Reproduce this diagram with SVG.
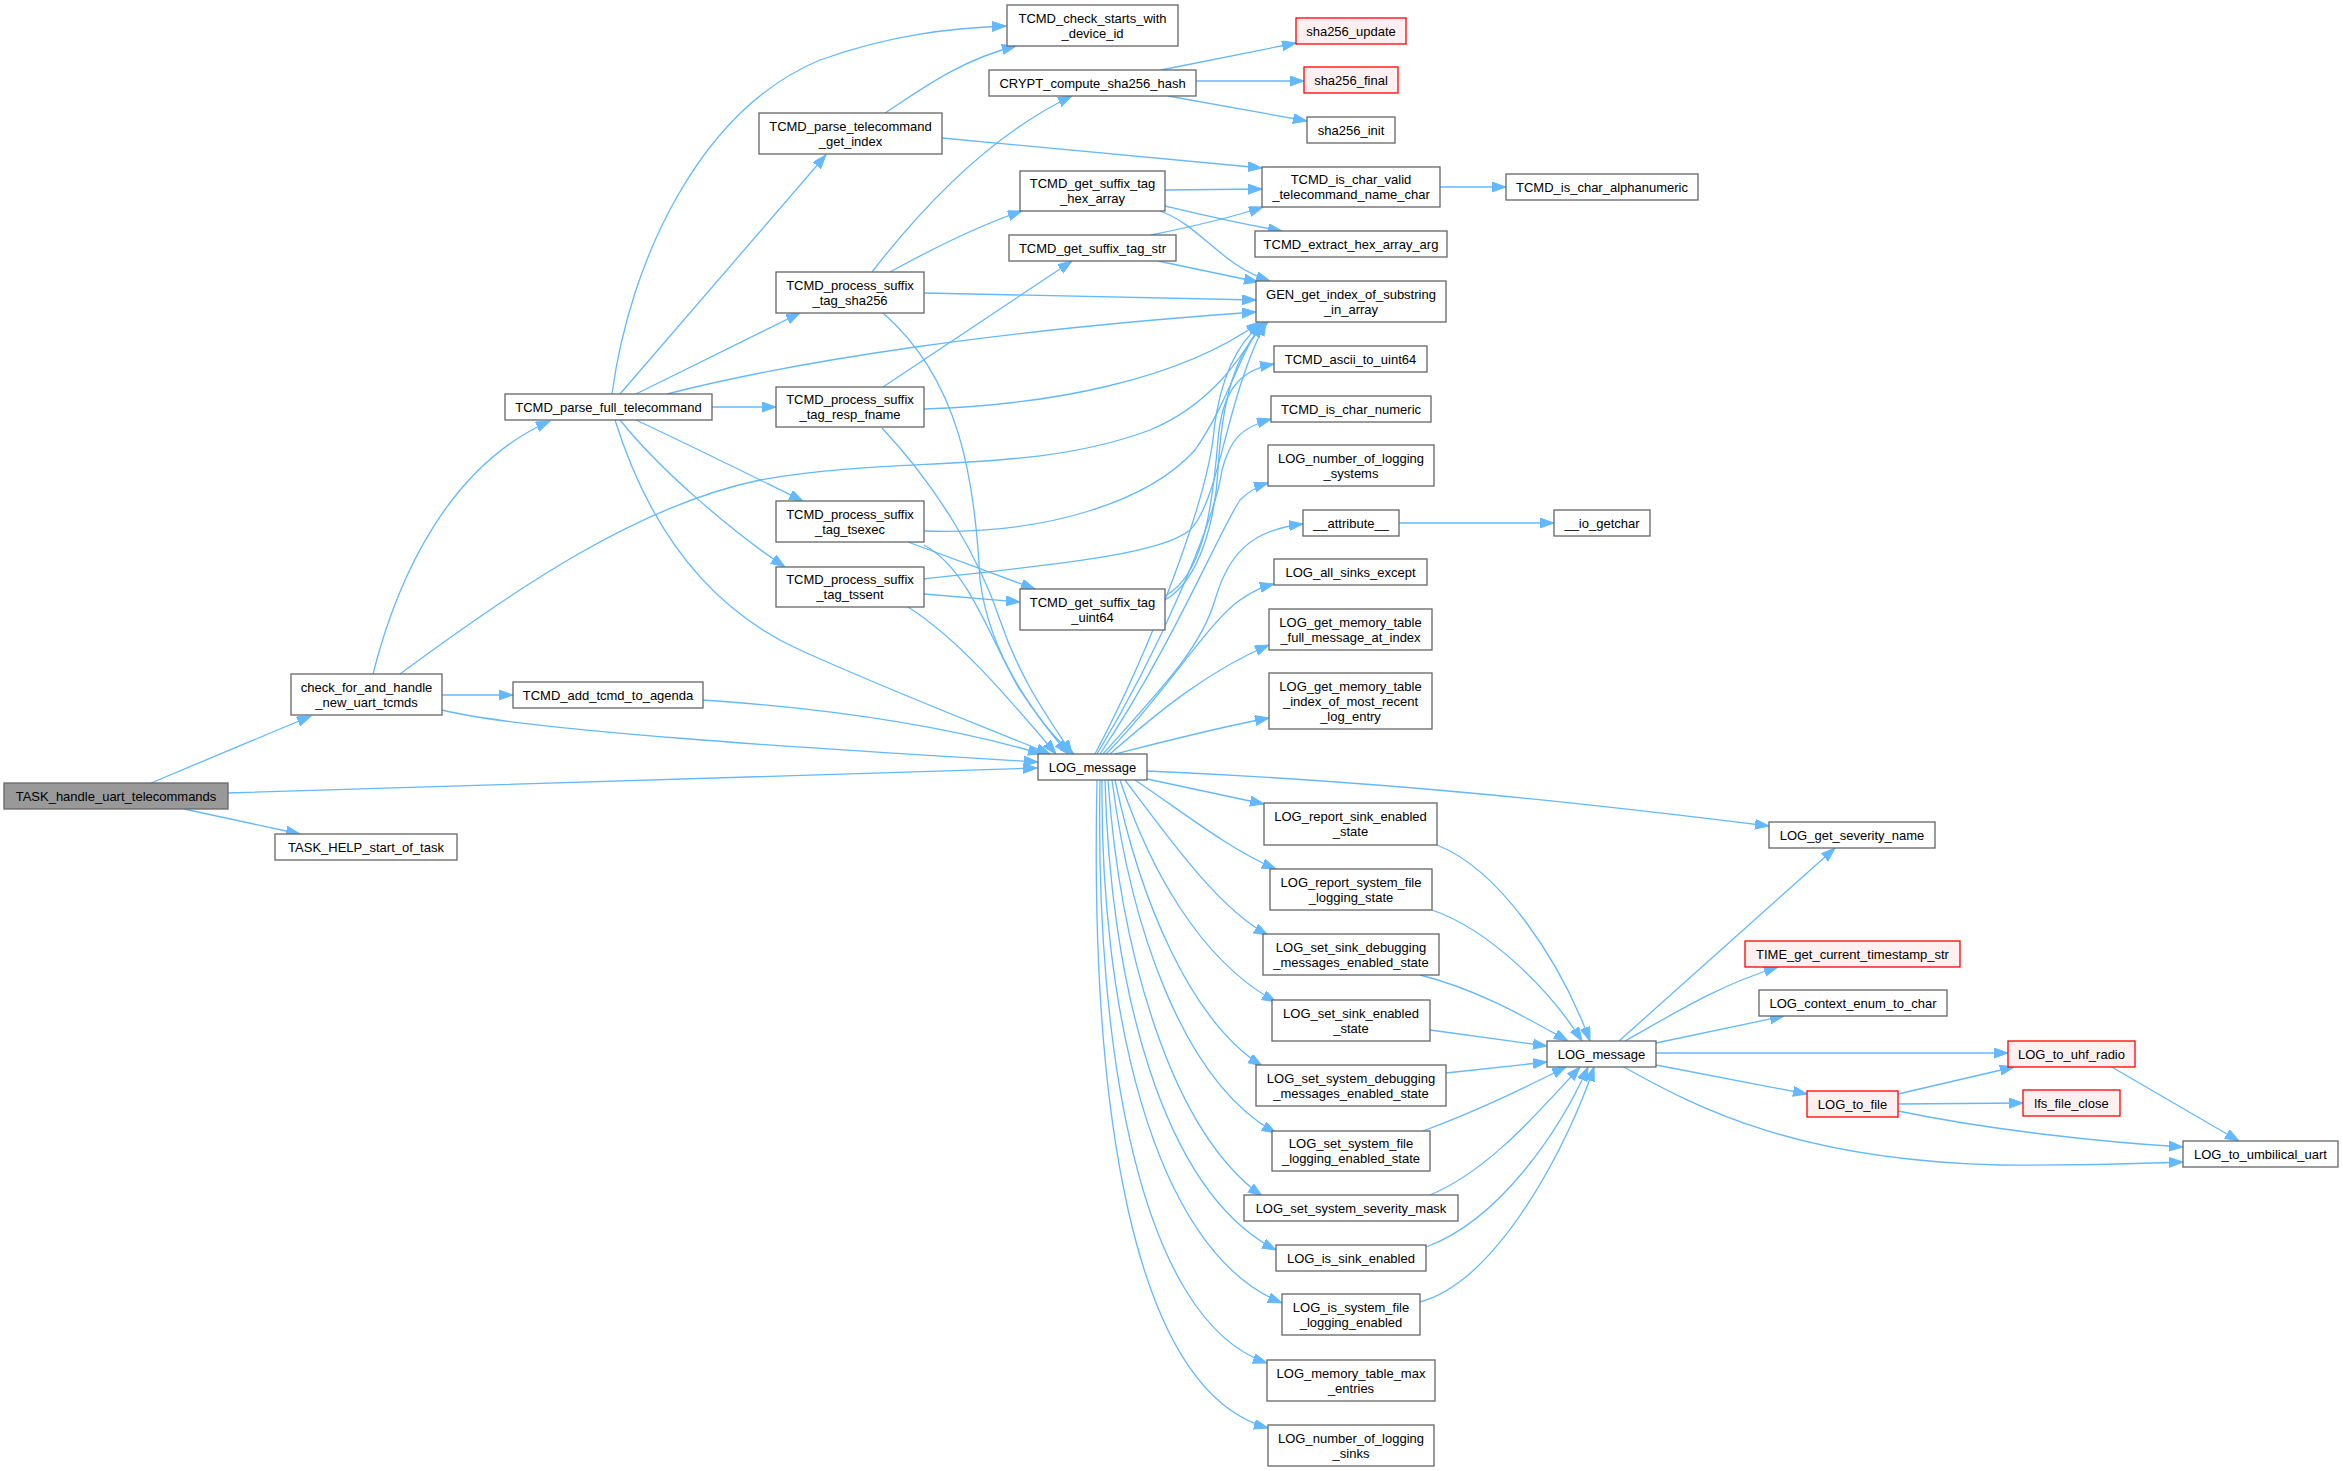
<svg xmlns="http://www.w3.org/2000/svg" width="2343" height="1471" viewBox="0 0 2343 1471">
<style>
.n rect{fill:#fff;stroke:#666;stroke-width:1.3}
.n.r rect{fill:#fff0f0;stroke:#ff0000}
.n.g rect{fill:#999}
text{font-family:"Liberation Sans",Arial,Helvetica,sans-serif;font-size:13px;text-anchor:middle;fill:#000}
#edges path{fill:none;stroke:#63b8ff;stroke-width:1.3;marker-end:url(#a)}
</style>
<defs>
<marker id="a" markerUnits="userSpaceOnUse" markerWidth="15" markerHeight="11" refX="14" refY="5" orient="auto">
<path d="M0,0 L14,5 L0,10 z" fill="#63b8ff" stroke="#63b8ff" stroke-width="1"/>
</marker>
</defs>
<rect width="2343" height="1471" fill="#fff"/>
<g id="edges">
<path d="M151,783 L311,716"/>
<path d="M184,809 L300,834"/>
<path d="M228,793 C500,785 800,775 1037,768"/>
<path d="M373,674 C398,575 450,465 550,421"/>
<path d="M442,695 L513,695"/>
<path d="M442,710 C520,730 800,748 1038,762"/>
<path d="M400,674 C520,585 640,505 760,480 C900,455 1030,475 1150,430 C1210,405 1240,360 1262,323"/>
<path d="M612,394 C630,260 700,110 820,60 C890,35 950,28 1006,26"/>
<path d="M620,394 L826,155"/>
<path d="M636,394 L800,313"/>
<path d="M667,394 C800,360 1000,330 1256,312"/>
<path d="M712,407 L776,407"/>
<path d="M636,420 C700,450 760,480 803,501"/>
<path d="M620,420 C660,470 730,530 785,567"/>
<path d="M615,420 C640,500 690,600 800,650 C900,695 980,725 1050,754"/>
<path d="M703,700 C850,710 960,730 1042,754"/>
<path d="M885,113 C920,90 960,60 1016,46"/>
<path d="M942,138 C1080,150 1180,160 1262,168"/>
<path d="M872,272 C920,210 990,135 1072,96"/>
<path d="M890,272 C930,250 980,225 1022,211"/>
<path d="M924,293 L1256,300"/>
<path d="M883,313 C960,380 975,480 980,580 C990,660 1040,720 1068,754"/>
<path d="M883,387 L1072,261"/>
<path d="M924,409 C1050,405 1180,380 1260,322"/>
<path d="M882,428 C940,490 980,560 1000,620 C1020,680 1050,720 1072,754"/>
<path d="M924,531 C1050,535 1150,500 1195,450 C1230,400 1240,350 1264,322"/>
<path d="M908,542 L1035,589"/>
<path d="M924,545 C970,570 990,640 1020,690 C1040,720 1055,740 1074,754"/>
<path d="M924,579 C1050,565 1160,555 1190,530 C1220,500 1225,400 1266,322"/>
<path d="M924,594 L1020,602"/>
<path d="M908,607 C960,640 1010,700 1056,754"/>
<path d="M1165,190 L1262,189"/>
<path d="M1165,206 C1190,212 1230,222 1282,231"/>
<path d="M1160,211 C1200,225 1220,265 1270,281"/>
<path d="M1151,235 C1200,225 1230,218 1263,207"/>
<path d="M1158,261 L1258,282"/>
<path d="M1165,600 C1200,580 1215,520 1218,470 C1222,400 1235,350 1268,322"/>
<path d="M1165,596 C1205,575 1213,500 1218,440 C1222,390 1240,370 1274,364"/>
<path d="M1095,754 C1150,650 1208,500 1214,430 C1220,380 1235,345 1262,323"/>
<path d="M1097,754 C1160,650 1215,520 1222,470 C1230,440 1240,428 1271,419"/>
<path d="M1100,754 C1170,650 1220,530 1240,500 C1250,490 1258,486 1268,483"/>
<path d="M1103,754 C1160,690 1200,650 1215,600 C1228,555 1250,530 1303,524"/>
<path d="M1106,754 C1160,700 1210,620 1240,600 C1255,590 1262,587 1274,584"/>
<path d="M1110,754 C1160,710 1210,670 1269,645"/>
<path d="M1115,754 C1170,740 1220,727 1269,718"/>
<path d="M1147,771 C1400,782 1600,805 1769,826"/>
<path d="M1147,779 L1264,804"/>
<path d="M1135,780 C1180,810 1230,850 1276,869"/>
<path d="M1125,780 C1170,840 1220,910 1268,935"/>
<path d="M1120,780 C1150,870 1200,960 1276,1002"/>
<path d="M1115,780 C1140,900 1190,1020 1262,1066"/>
<path d="M1112,780 C1130,920 1180,1080 1276,1133"/>
<path d="M1108,780 C1120,950 1170,1130 1262,1196"/>
<path d="M1105,780 C1110,980 1160,1190 1276,1250"/>
<path d="M1102,780 C1100,1000 1150,1250 1282,1303"/>
<path d="M1100,780 C1095,1050 1140,1320 1267,1363"/>
<path d="M1097,780 C1090,1100 1130,1390 1268,1428"/>
<path d="M1437,845 C1500,870 1560,960 1590,1041"/>
<path d="M1432,910 C1490,930 1550,990 1582,1041"/>
<path d="M1420,975 C1480,990 1530,1020 1568,1041"/>
<path d="M1430,1030 L1547,1046"/>
<path d="M1446,1073 L1547,1062"/>
<path d="M1423,1131 C1480,1110 1530,1085 1566,1067"/>
<path d="M1430,1195 C1490,1170 1540,1110 1580,1067"/>
<path d="M1426,1247 C1500,1220 1560,1130 1588,1067"/>
<path d="M1420,1302 C1500,1280 1570,1140 1594,1067"/>
<path d="M1619,1041 L1835,848"/>
<path d="M1625,1041 C1680,1010 1720,985 1778,967"/>
<path d="M1656,1043 L1784,1016"/>
<path d="M1656,1053 L2008,1053"/>
<path d="M1656,1065 L1807,1094"/>
<path d="M1622,1066 C1700,1110 1800,1160 2000,1165 C2100,1166 2150,1163 2183,1162"/>
<path d="M1898,1094 L2014,1067"/>
<path d="M1898,1104 L2023,1103"/>
<path d="M1898,1111 C1990,1130 2100,1142 2183,1147"/>
<path d="M2110,1066 L2239,1141"/>
<path d="M1161,70 L1296,43"/>
<path d="M1196,81 L1304,81"/>
<path d="M1168,96 L1307,121"/>
<path d="M1440,187 L1506,187"/>
<path d="M1399,523 L1554,523"/>
</g>
<g id="n1" class="n g"><rect x="4" y="783" width="224" height="26"/><text x="116" y="800.5">TASK_handle_uart_telecommands</text></g>
<g id="n2" class="n"><rect x="275" y="834" width="182" height="26"/><text x="366" y="851.5">TASK_HELP_start_of_task</text></g>
<g id="n3" class="n"><rect x="291" y="674" width="151" height="41"/><text x="366.5" y="691.5">check_for_and_handle</text><text x="366.5" y="706.5">_new_uart_tcmds</text></g>
<g id="n4" class="n"><rect x="505" y="394" width="207" height="26"/><text x="608.5" y="411.5">TCMD_parse_full_telecommand</text></g>
<g id="n5" class="n"><rect x="513" y="682" width="190" height="26"/><text x="608" y="699.5">TCMD_add_tcmd_to_agenda</text></g>
<g id="n6" class="n"><rect x="1007" y="5" width="171" height="41"/><text x="1092.5" y="22.5">TCMD_check_starts_with</text><text x="1092.5" y="37.5">_device_id</text></g>
<g id="n7" class="n"><rect x="989" y="70" width="207" height="26"/><text x="1092.5" y="87.5">CRYPT_compute_sha256_hash</text></g>
<g id="n8" class="n"><rect x="759" y="113" width="183" height="41"/><text x="850.5" y="130.5">TCMD_parse_telecommand</text><text x="850.5" y="145.5">_get_index</text></g>
<g id="n9" class="n"><rect x="1020" y="171" width="145" height="40"/><text x="1092.5" y="188">TCMD_get_suffix_tag</text><text x="1092.5" y="203">_hex_array</text></g>
<g id="n10" class="n"><rect x="1009" y="235" width="167" height="26"/><text x="1092.5" y="252.5">TCMD_get_suffix_tag_str</text></g>
<g id="n11" class="n"><rect x="776" y="272" width="148" height="41"/><text x="850" y="289.5">TCMD_process_suffix</text><text x="850" y="304.5">_tag_sha256</text></g>
<g id="n12" class="n"><rect x="776" y="387" width="148" height="40"/><text x="850" y="404">TCMD_process_suffix</text><text x="850" y="419">_tag_resp_fname</text></g>
<g id="n13" class="n"><rect x="776" y="501" width="148" height="41"/><text x="850" y="518.5">TCMD_process_suffix</text><text x="850" y="533.5">_tag_tsexec</text></g>
<g id="n14" class="n"><rect x="776" y="567" width="148" height="40"/><text x="850" y="584">TCMD_process_suffix</text><text x="850" y="599">_tag_tssent</text></g>
<g id="n15" class="n"><rect x="1020" y="589" width="145" height="41"/><text x="1092.5" y="606.5">TCMD_get_suffix_tag</text><text x="1092.5" y="621.5">_uint64</text></g>
<g id="n16" class="n"><rect x="1038" y="754" width="109" height="26"/><text x="1092.5" y="771.5">LOG_message</text></g>
<g id="n17" class="n r"><rect x="1296" y="18" width="110" height="26"/><text x="1351" y="35.5">sha256_update</text></g>
<g id="n18" class="n r"><rect x="1304" y="67" width="94" height="26"/><text x="1351" y="84.5">sha256_final</text></g>
<g id="n19" class="n"><rect x="1307" y="117" width="88" height="26"/><text x="1351" y="134.5">sha256_init</text></g>
<g id="n20" class="n"><rect x="1262" y="167" width="178" height="40"/><text x="1351" y="184">TCMD_is_char_valid</text><text x="1351" y="199">_telecommand_name_char</text></g>
<g id="n21" class="n"><rect x="1506" y="174" width="192" height="26"/><text x="1602" y="191.5">TCMD_is_char_alphanumeric</text></g>
<g id="n22" class="n"><rect x="1255" y="231" width="192" height="26"/><text x="1351" y="248.5">TCMD_extract_hex_array_arg</text></g>
<g id="n23" class="n"><rect x="1256" y="281" width="190" height="41"/><text x="1351" y="298.5">GEN_get_index_of_substring</text><text x="1351" y="313.5">_in_array</text></g>
<g id="n24" class="n"><rect x="1274" y="346" width="153" height="26"/><text x="1350.5" y="363.5">TCMD_ascii_to_uint64</text></g>
<g id="n25" class="n"><rect x="1271" y="396" width="160" height="26"/><text x="1351" y="413.5">TCMD_is_char_numeric</text></g>
<g id="n26" class="n"><rect x="1268" y="445" width="166" height="41"/><text x="1351" y="462.5">LOG_number_of_logging</text><text x="1351" y="477.5">_systems</text></g>
<g id="n27" class="n"><rect x="1303" y="510" width="96" height="26"/><text x="1351" y="527.5">__attribute__</text></g>
<g id="n28" class="n"><rect x="1554" y="510" width="96" height="26"/><text x="1602" y="527.5">__io_getchar</text></g>
<g id="n29" class="n"><rect x="1274" y="559" width="153" height="26"/><text x="1350.5" y="576.5">LOG_all_sinks_except</text></g>
<g id="n30" class="n"><rect x="1269" y="609" width="163" height="41"/><text x="1350.5" y="626.5">LOG_get_memory_table</text><text x="1350.5" y="641.5">_full_message_at_index</text></g>
<g id="n31" class="n"><rect x="1269" y="673" width="163" height="56"/><text x="1350.5" y="690.5">LOG_get_memory_table</text><text x="1350.5" y="705.5">_index_of_most_recent</text><text x="1350.5" y="720.5">_log_entry</text></g>
<g id="n32" class="n"><rect x="1264" y="803" width="173" height="42"/><text x="1350.5" y="821">LOG_report_sink_enabled</text><text x="1350.5" y="836">_state</text></g>
<g id="n33" class="n"><rect x="1270" y="869" width="162" height="41"/><text x="1351" y="886.5">LOG_report_system_file</text><text x="1351" y="901.5">_logging_state</text></g>
<g id="n34" class="n"><rect x="1263" y="934" width="176" height="41"/><text x="1351" y="951.5">LOG_set_sink_debugging</text><text x="1351" y="966.5">_messages_enabled_state</text></g>
<g id="n35" class="n"><rect x="1272" y="1000" width="158" height="41"/><text x="1351" y="1017.5">LOG_set_sink_enabled</text><text x="1351" y="1032.5">_state</text></g>
<g id="n36" class="n"><rect x="1256" y="1065" width="190" height="41"/><text x="1351" y="1082.5">LOG_set_system_debugging</text><text x="1351" y="1097.5">_messages_enabled_state</text></g>
<g id="n37" class="n"><rect x="1272" y="1131" width="158" height="40"/><text x="1351" y="1148">LOG_set_system_file</text><text x="1351" y="1163">_logging_enabled_state</text></g>
<g id="n38" class="n"><rect x="1244" y="1195" width="214" height="26"/><text x="1351" y="1212.5">LOG_set_system_severity_mask</text></g>
<g id="n39" class="n"><rect x="1276" y="1245" width="150" height="26"/><text x="1351" y="1262.5">LOG_is_sink_enabled</text></g>
<g id="n40" class="n"><rect x="1282" y="1294" width="138" height="41"/><text x="1351" y="1311.5">LOG_is_system_file</text><text x="1351" y="1326.5">_logging_enabled</text></g>
<g id="n41" class="n"><rect x="1267" y="1360" width="168" height="41"/><text x="1351" y="1377.5">LOG_memory_table_max</text><text x="1351" y="1392.5">_entries</text></g>
<g id="n42" class="n"><rect x="1268" y="1425" width="166" height="41"/><text x="1351" y="1442.5">LOG_number_of_logging</text><text x="1351" y="1457.5">_sinks</text></g>
<g id="n43" class="n"><rect x="1769" y="822" width="166" height="26"/><text x="1852" y="839.5">LOG_get_severity_name</text></g>
<g id="n44" class="n r"><rect x="1745" y="941" width="215" height="26"/><text x="1852.5" y="958.5">TIME_get_current_timestamp_str</text></g>
<g id="n45" class="n"><rect x="1759" y="990" width="188" height="26"/><text x="1853" y="1007.5">LOG_context_enum_to_char</text></g>
<g id="n46" class="n"><rect x="1547" y="1041" width="109" height="26"/><text x="1601.5" y="1058.5">LOG_message</text></g>
<g id="n47" class="n r"><rect x="1807" y="1091" width="91" height="26"/><text x="1852.5" y="1108.5">LOG_to_file</text></g>
<g id="n48" class="n r"><rect x="2008" y="1041" width="127" height="26"/><text x="2071.5" y="1058.5">LOG_to_uhf_radio</text></g>
<g id="n49" class="n r"><rect x="2023" y="1090" width="97" height="26"/><text x="2071.5" y="1107.5">lfs_file_close</text></g>
<g id="n50" class="n"><rect x="2183" y="1141" width="155" height="26"/><text x="2260.5" y="1158.5">LOG_to_umbilical_uart</text></g>
</svg>
